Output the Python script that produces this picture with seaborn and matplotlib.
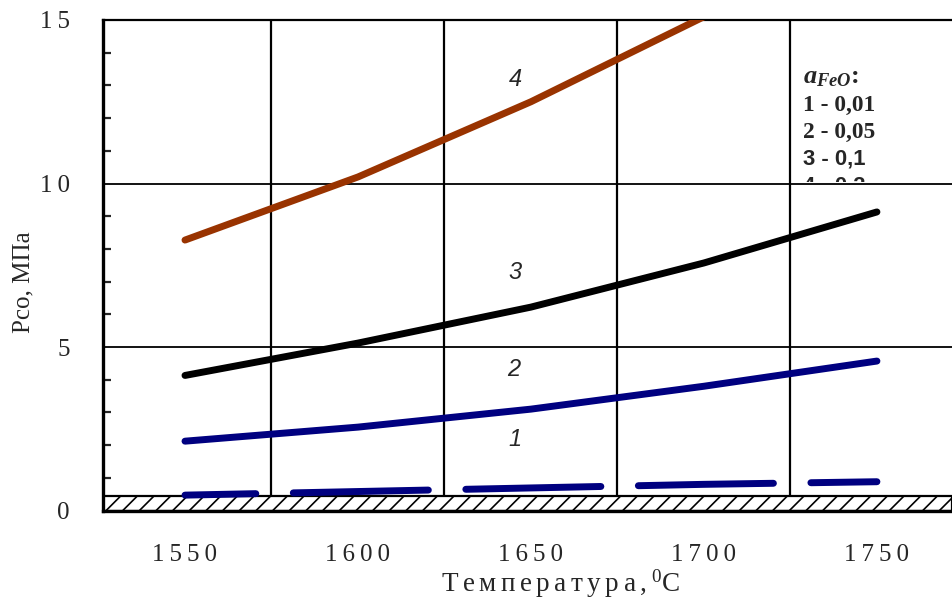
import matplotlib
matplotlib.use("Agg")
import matplotlib.pyplot as plt
from matplotlib.transforms import Bbox, TransformedBbox
import seaborn as sns
import pandas as pd

# Temperatures (°C) and CO partial pressure (MPa) for each FeO activity
temp = [1550, 1600, 1650, 1700, 1750]
p_001 = [0.47, 0.58, 0.69, 0.80, 0.88]
p_005 = [2.12, 2.55, 3.10, 3.80, 4.57]
p_01 = [4.13, 5.12, 6.22, 7.57, 9.13]
temp_02 = [1550, 1600, 1650, 1700]
p_02 = [8.27, 10.20, 12.50, 15.10]

curve_numbers = ["1", "2", "3", "4"]
activity_labels = ["1 - 0,01", "2 - 0,05", "3 - 0,1", "4 - 0,2"]
x_ticks = [1550, 1600, 1650, 1700, 1750]
y_ticks = [0, 5, 10, 15]
x_grid = [1575, 1625, 1675, 1725]
y_grid = [5, 10]
hatched_top = 0.44

sns.set_theme(style="white")
plt.rcParams["font.family"] = ["Liberation Serif", "DejaVu Serif"]
plt.rcParams["mathtext.fontset"] = "custom"
plt.rcParams["mathtext.rm"] = "Liberation Serif"
plt.rcParams["mathtext.it"] = "Liberation Serif:italic:bold"
plt.rcParams["hatch.linewidth"] = 1.2
plt.rcParams["hatch.color"] = "black"


def spaced(s, gap="\u2009"):
    return gap.join(s)


fig = plt.figure(figsize=(9.52, 6.01), dpi=100)
ax = fig.add_axes([103 / 952, 1 - 510.5 / 601, 1 - 103 / 952, 490.5 / 601])
ax.set_xlim(1526.3, 1771.7)
ax.set_ylim(0, 15)

# grid lines
for gx in x_grid:
    ax.axvline(gx, color="black", lw=1.6, zorder=1)
for gy in y_grid:
    ax.axhline(gy, color="black", lw=1.3, zorder=1)

# hatched strip along the bottom
ax.axhspan(0, hatched_top, facecolor="white", edgecolor="black", hatch="//",
           lw=1.6, zorder=2)

df = pd.DataFrame({"T": temp, "p1": p_001, "p2": p_005, "p3": p_01})
df4 = pd.DataFrame({"T": temp_02, "p4": p_02})

lw = 5.0
sns.lineplot(data=df, x="T", y="p1", ax=ax, color="#000080", lw=lw,
             linestyle=(9.25, (19.45, 5.4)), dash_capstyle="round",
             solid_capstyle="round", zorder=3)
sns.lineplot(data=df, x="T", y="p2", ax=ax, color="#000080", lw=lw,
             solid_capstyle="round", zorder=3)
sns.lineplot(data=df, x="T", y="p3", ax=ax, color="black", lw=lw,
             solid_capstyle="round", zorder=3)
sns.lineplot(data=df4, x="T", y="p4", ax=ax, color="#993300", lw=lw,
             solid_capstyle="round", zorder=3)

# curve numbers
label_pos = [(1645.4, 2.16), (1645.0, 4.30), (1645.4, 7.29), (1645.4, 13.17)]
for num, (lx, ly) in zip(curve_numbers, label_pos):
    ax.text(lx, ly, num, fontsize=17, style="italic", family="Liberation Sans",
            ha="center", va="center", zorder=4)

# activity key; the last entry is cut off by the 10 MPa grid line
ax.text(1728.6, 13.23, r"$a_{FeO}$:", fontsize=19, fontweight="bold",
        ha="left", va="center", zorder=4)
key_y = [12.40, 11.57, 10.75, 9.92]
key_family = ["Liberation Serif", "Liberation Serif", "Liberation Sans", "Liberation Sans"]
key_size = [16.8, 16.8, 15.8, 15.8]
key_clip = TransformedBbox(Bbox([[1700, 10.04], [1800, 15]]), ax.transData)
for txt, ky, fam, fs in zip(activity_labels, key_y, key_family, key_size):
    t = ax.text(1728.6, ky, txt, fontsize=fs, fontweight="bold", family=fam,
                ha="left", va="center", zorder=0.8, clip_on=True)
    t.set_clip_box(key_clip)

# axes styling
ax.set_xticks(x_ticks)
ax.set_xticklabels([spaced(str(v)) for v in x_ticks])
ax.set_yticks(y_ticks)
ax.set_yticklabels([spaced(str(v)) for v in y_ticks])
ax.set_yticks(range(0, 16), minor=True)
ax.tick_params(axis="x", length=0, pad=24, labelsize=18)
ax.tick_params(axis="y", which="major", length=0, pad=24, labelsize=18)
ax.tick_params(axis="y", which="minor", direction="in", length=6, width=1.6, left=True)
ax.set_xlabel("")
ax.set_ylabel("")

for side in ["top", "bottom", "left", "right"]:
    ax.spines[side].set_color("black")
ax.spines["left"].set_linewidth(2.4)
ax.spines["bottom"].set_linewidth(2.4)
ax.spines["top"].set_linewidth(1.6)
ax.spines["right"].set_visible(False)

fig.text(23 / 952, 1 - 282 / 601, "Pco, МПа", rotation=90, fontsize=18,
         ha="center", va="center")
fig.text(560 / 952, 1 - 584 / 601,
         spaced("Температура,", "\u2006") + "\u2006$^{0}$C",
         fontsize=19.5, ha="center", va="center")

fig.savefig("out.png", dpi=100)
